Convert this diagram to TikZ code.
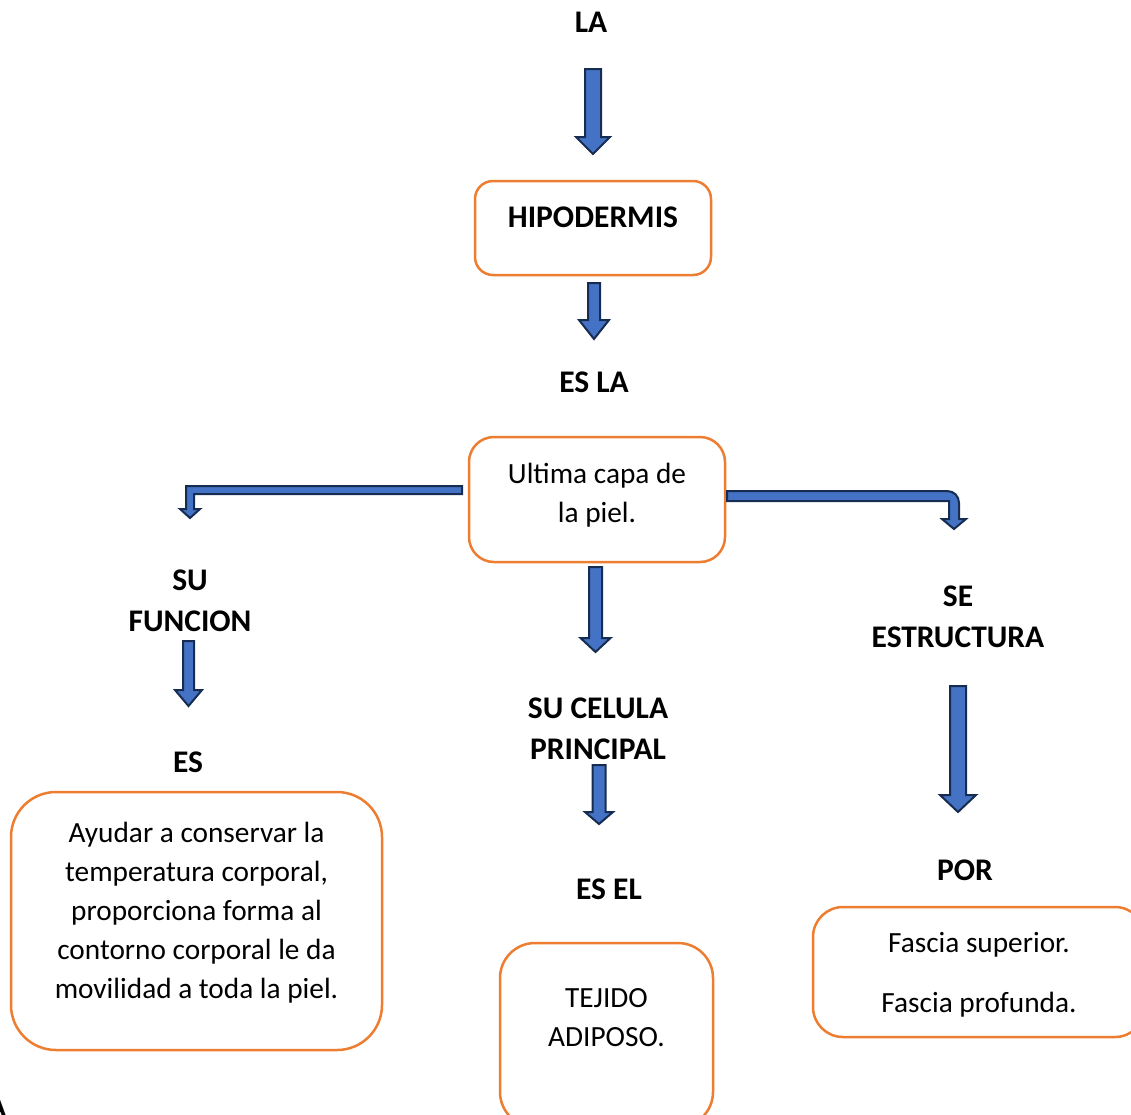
\documentclass[tikz,border=0pt]{standalone}
\usepackage{xcolor}
\usepackage{fontspec}
\setmainfont{Carlito}
\usepackage{tikz}
\usetikzlibrary{calc}

\definecolor{boxorange}{HTML}{ED7D31}
\definecolor{arrowblue}{HTML}{4472C4}
\definecolor{arrowline}{HTML}{172C51}

% straight block arrow: start, tip, shaft half width, head half width, head length
\newcommand{\blockarrow}[5]{%
  \path[blockarrow] let \p1=(#1), \p2=(#2) in
    (\x1-#3pt,\y1) -- (\x1+#3pt,\y1) -- (\x1+#3pt,\y2+#5pt) -- (\x1+#4pt,\y2+#5pt)
    -- (\x1,\y2) -- (\x1-#4pt,\y2+#5pt) -- (\x1-#3pt,\y2+#5pt) -- cycle;}

\begin{document}
\begin{tikzpicture}[x=1pt, y=-1pt,
    box/.style={draw=boxorange, line width=2.5pt, rounded corners=#1, align=center,
      inner sep=0pt, font=\fontsize{29.3}{39}\selectfont},
    box/.default=20pt,
    word/.style={align=center, font=\bfseries\fontsize{31.5}{41}\selectfont},
    blockarrow/.style={fill=arrowblue, draw=arrowline, line width=2pt, line join=miter}]
      \useasboundingbox (0,0) rectangle (1131,1114);

      % Top of the chain
      \node[word] (la) at (591,22) {LA};
      \node[box=18pt, minimum width=236, minimum height=94, text depth=22pt,
            font=\bfseries\fontsize{31.5}{41}\selectfont] (hipo) at (593,228) {HIPODERMIS};
      \node[word] (esla) at (594,382) {ES LA};
      \node[box=25pt, minimum width=256, minimum height=125, text depth=14pt] (ultima) at (597,499.5)
            {Ultima capa de\\la piel.};

      % Left branch
      \node[word] (funcion) at (190,601) {SU\\FUNCION};
      \node[word] (es) at (188,762) {ES};
      \node[box=45pt, minimum width=371, minimum height=258, text depth=22pt] (ayudar) at (196.5,921)
            {Ayudar a conservar la\\temperatura corporal,\\proporciona forma al\\contorno corporal le da\\movilidad a toda la piel.};
      \node[word] (a) at (-3,1107) {A};

      % Middle branch
      \node[word] (celula) at (598,729) {SU CELULA\\PRINCIPAL};
      \node[word] (esel) at (609,889) {ES EL};
      \node[box=35pt, minimum width=213, minimum height=184, text depth=35pt] (tejido) at (606.5,1035)
            {TEJIDO\\ADIPOSO.};

      % Right branch
      \node[word] (estructura) at (958,617) {SE\\ESTRUCTURA};
      \node[word] (por) at (965,870) {POR};
      \node[box=30pt, minimum width=332, minimum height=130, text depth=0pt] (fascia) at (979,972)
            {Fascia superior.\\[21pt]Fascia profunda.};

      % Arrow ends
      \coordinate (a1s) at (593,69);   \coordinate (a1e) at (593,154);
      \coordinate (a2s) at (594,283);  \coordinate (a2e) at (594,339);
      \coordinate (a3s) at (595.5,567); \coordinate (a3e) at (595.5,652);
      \coordinate (a4s) at (188.5,641); \coordinate (a4e) at (188.5,706);
      \coordinate (a5s) at (599,765);  \coordinate (a5e) at (599,824);
      \coordinate (a6s) at (958,686);  \coordinate (a6e) at (958,812);

      \blockarrow{a1s}{a1e}{8}{17}{17}
      \blockarrow{a2s}{a2e}{6}{15}{19}
      \blockarrow{a3s}{a3e}{6.5}{15}{14}
      \blockarrow{a4s}{a4e}{5.5}{13.5}{16}
      \blockarrow{a5s}{a5e}{6.5}{14}{12}
      \blockarrow{a6s}{a6e}{8}{18}{17}

      % Bent arrows out of the middle box
      \path[blockarrow] (462,486) -- (186,486) -- (186,509) -- (180,509) -- (190,518)
            -- (200,509) -- (194,509) -- (194,494) -- (462,494) -- cycle;
      \path[blockarrow] (727,491) -- (947,491) .. controls (954,491) and (959,496) .. (959,503)
            -- (959,519) -- (966,519) -- (954,529) -- (942,519) -- (949,519) -- (949,501)
            -- (727,501) -- cycle;
    \end{tikzpicture}
\end{document}
